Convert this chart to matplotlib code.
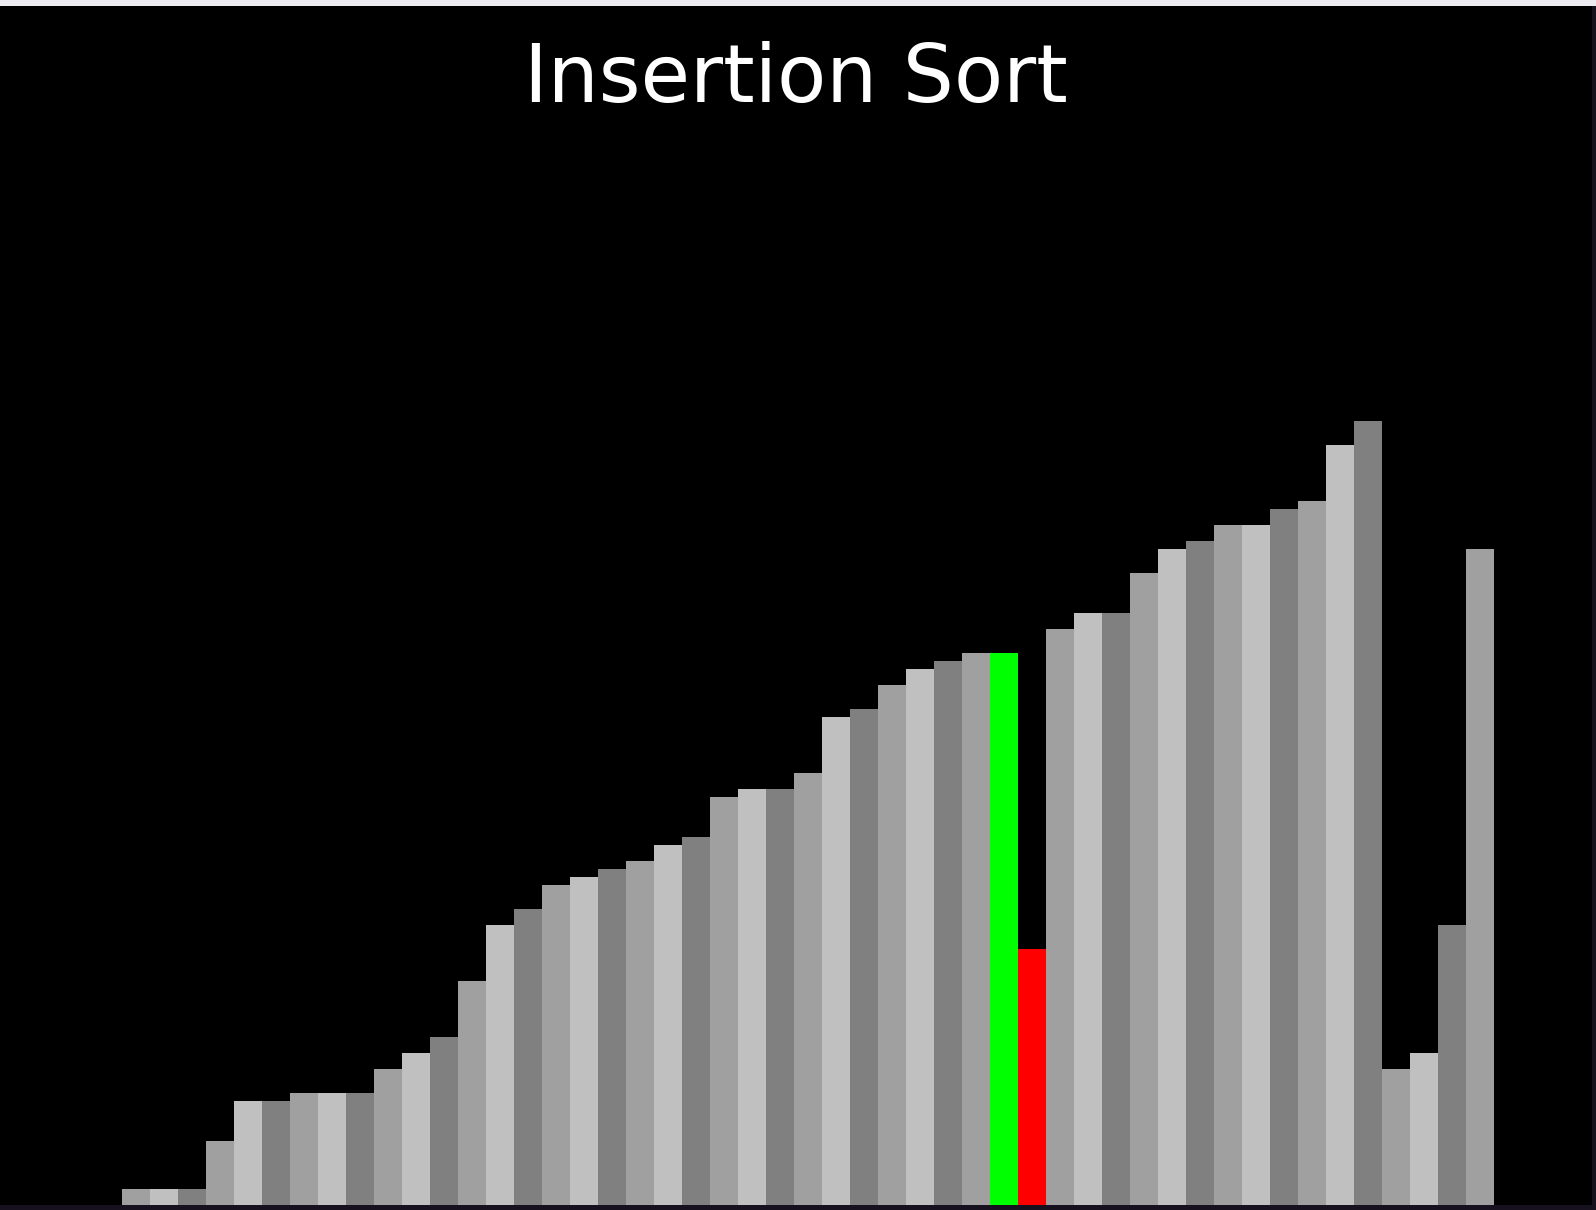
import matplotlib
matplotlib.use("Agg")
import matplotlib.pyplot as plt
from matplotlib.patches import Rectangle

# Array state in the middle of an insertion sort pass (heights in units)
values = [2, 2, 2, 8, 13, 13, 14, 14, 14, 17, 19, 21, 28, 35, 37, 40, 41, 42, 43,
          45, 46, 51, 52, 52, 54, 61, 62, 65, 67, 68, 69, 69, 32, 72, 74, 74, 79,
          82, 83, 85, 85, 87, 88, 95, 98, 17, 19, 35, 82]
compare_idx = 31   # green bar
key_idx = 32       # red bar
greys = ["#a0a0a0", "#c0c0c0", "#808080"]

W, H = 1596, 1210
fig = plt.figure(figsize=(W / 100, H / 100), dpi=100)
fig.patch.set_facecolor("#16101f")

# light window strip at the top
fig.patches.append(Rectangle((0, 1 - 6 / H), 1, 6 / H, transform=fig.transFigure,
                             facecolor="#edecf1", edgecolor="none"))

ax = fig.add_axes([0, 5 / H, 1592 / W, (1205 - 6) / H])
ax.set_facecolor("black")

colors = []
for i in range(len(values)):
    if i == compare_idx:
        colors.append("#00ff00")
    elif i == key_idx:
        colors.append("#ff0000")
    else:
        colors.append(greys[i % 3])

ax.bar(range(len(values)), values, width=1, align="edge", color=colors, linewidth=0)

# bar width 28 px, first bar at x=122 px, 8 px per unit
ax.set_xlim(-122 / 28, (1592 - 122) / 28)
ax.set_ylim(0, (1205 - 6) / 8)
ax.set_xticks([])
ax.set_yticks([])
for s in ax.spines.values():
    s.set_visible(False)

fig.text(796 / W, 1 - 80 / H, "Insertion Sort", color="white", fontsize=58,
         ha="center", va="center", family="DejaVu Sans")

fig.savefig("out.png", dpi=100, facecolor=fig.get_facecolor())
